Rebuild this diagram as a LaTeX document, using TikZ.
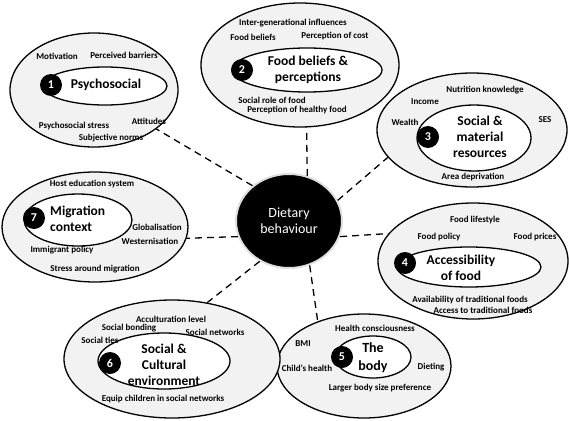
\documentclass[tikz,border=0pt]{standalone}
\usepackage{fontspec}
\setmainfont{Carlito}
\usetikzlibrary{shapes.geometric}
\definecolor{ringgrey}{HTML}{F2F2F2}

\begin{document}
\begin{tikzpicture}[x=1pt, y=-1pt,
  outer/.style={ellipse, draw=black, line width=1.3pt, fill=ringgrey, inner sep=0pt},
  inner/.style={ellipse, draw=black, line width=1.3pt, fill=white, inner sep=0pt},
  badge/.style={circle, fill=black, text=white, inner sep=0pt, minimum size=22pt,
    font=\bfseries\fontsize{12}{14}\selectfont},
  title/.style={align=center, inner sep=0pt, font=\bfseries\fontsize{13.5}{16}\selectfont},
  lbl/.style={inner sep=0pt, font=\bfseries\fontsize{9}{10}\selectfont},
  link/.style={line width=1.3pt, dash pattern=on 7pt off 5pt}]

\useasboundingbox (0,0) rectangle (569,420);

%% ------------------------------------------------------------------
%% centre: dietary behaviour
%% ------------------------------------------------------------------
\node[ellipse, fill=black, draw=gray!25, line width=2pt, minimum width=106pt,
  minimum height=94pt, text=white, align=center, inner sep=0pt,
  font=\fontsize{14}{16}\selectfont] (diet) at (289,221) {Dietary\\behaviour};

%% ------------------------------------------------------------------
%% (1) psychosocial
%% ------------------------------------------------------------------
\node[outer, minimum width=168pt, minimum height=114pt] (psy) at (94,90) {};
\node[inner, minimum width=124pt, minimum height=38pt] (psyin) at (105,86) {};
\node[badge] (b1) at (51,85) {1};
\node[title] (psyt) at (106,85) {Psychosocial};
\foreach \x/\y/\name/\txt in {57/56/motiv/Motivation, 124/55/barr/Perceived barriers,
    74/126/pstress/Psychosocial stress, 149/121/att/Attitudes,
    111/138/norms/Subjective norms}{
  \node[lbl] (\name) at (\x,\y) {\txt};
}

%% ------------------------------------------------------------------
%% (2) food beliefs & perceptions
%% ------------------------------------------------------------------
\node[outer, minimum width=198pt, minimum height=124pt] (food) at (300,65) {};
\node[inner, minimum width=150pt, minimum height=44pt] (foodin) at (307,70) {};
\node[badge] (b2) at (242,70) {2};
\node[title] (foodt) at (308,70) {Food beliefs \&\\perceptions};
\foreach \x/\y/\name/\txt in {293/23/intergen/Inter-generational influences,
    253/37/fbel/Food beliefs, 335/36/pcost/Perception of cost,
    272/100/srole/Social role of food, 297/110/phealthy/Perception of healthy food}{
  \node[lbl] (\name) at (\x,\y) {\txt};
}

%% ------------------------------------------------------------------
%% (3) social & material resources
%% ------------------------------------------------------------------
\node[outer, minimum width=190pt, minimum height=114pt] (soc) at (472,130) {};
\node[inner, minimum width=114pt, minimum height=66pt] (socin) at (474,138) {};
\node[badge] (b3) at (428,137) {3};
\node[title] (soct) at (480,137) {Social \&\\material\\resources};
\foreach \x/\y/\name/\txt in {485/90/nutr/Nutrition knowledge, 425/102/income/Income,
    405/122/wealth/Wealth, 545/120/ses/SES, 473/177/area/Area deprivation}{
  \node[lbl] (\name) at (\x,\y) {\txt};
}

%% ------------------------------------------------------------------
%% (4) accessibility of food
%% ------------------------------------------------------------------
\node[outer, minimum width=190pt, minimum height=116pt] (acc) at (473,261) {};
\node[inner, minimum width=144pt, minimum height=40pt] (accin) at (469,267) {};
\node[badge] (b4) at (405,263) {4};
\node[title] (acct) at (461,268) {Accessibility\\of food};
\foreach \x/\y/\name/\txt in {475/220/lifestyle/Food lifestyle, 439/237/policy/Food policy,
    535/237/prices/Food prices, 470/300/avail/Availability of traditional foods,
    483/310/access/Access to traditional foods}{
  \node[lbl] (\name) at (\x,\y) {\txt};
}

%% ------------------------------------------------------------------
%% (5) the body
%% ------------------------------------------------------------------
\node[outer, minimum width=174pt, minimum height=104pt] (body) at (364,366) {};
\node[inner, minimum width=76pt, minimum height=42pt] (bodyin) at (373,357) {};
\node[badge] (b5) at (342,357) {5};
\node[title, font=\bfseries\fontsize{14}{18}\selectfont] (bodyt) at (373,358) {The\\body};
\foreach \x/\y/\name/\txt in {375/328/hcons/Health consciousness, 303/344/bmi/BMI,
    307/368/child/Child’s health, 431/367/diet2/Dieting,
    380/388/larger/Larger body size preference}{
  \node[lbl] (\name) at (\x,\y) {\txt};
}

%% ------------------------------------------------------------------
%% (6) social & cultural environment
%% ------------------------------------------------------------------
\node[outer, minimum width=216pt, minimum height=118pt] (cult) at (172,359) {};
\node[inner, minimum width=132pt, minimum height=56pt] (cultin) at (164,361) {};
\node[badge] (b6) at (110,363) {6};
\node[title] (cultt) at (164,365) {Social \&\\Cultural\\environment};
\foreach \x/\y/\name/\txt in {171/319/accult/Acculturation level, 129/328/bond/Social bonding,
    215/332/snet/Social networks, 100/340/ties/Social ties,
    163/399/equip/Equip children in social networks}{
  \node[lbl] (\name) at (\x,\y) {\txt};
}

%% ------------------------------------------------------------------
%% (7) migration context
%% ------------------------------------------------------------------
\node[outer, minimum width=186pt, minimum height=110pt] (mig) at (95,227) {};
\node[inner, minimum width=108pt, minimum height=52pt] (migin) at (78,220) {};
\node[badge] (b7) at (34,218) {7};
\node[title, align=left, anchor=west] (migt) at (50,219) {Migration\\context};
\foreach \x/\y/\name/\txt in {92/184/host/Host education system, 157/227/glob/Globalisation,
    150/241/west/Westernisation, 62/250/immig/Immigrant policy,
    95/269/stress/Stress around migration}{
  \node[lbl] (\name) at (\x,\y) {\txt};
}

%% dashed spokes from the centre out to each domain
\draw[link] (diet.136) -- (psy.-32);
\draw[link] (diet.68) -- (food.-84);
\draw[link] (diet.23) -- (soc.198);
\draw[link] (diet.-17) -- (acc.162);
\draw[link] (diet.-65) -- (body.136);
\draw[link] (diet.234) -- (cult.58);
\draw[link] (diet.197) -- (mig.-7);

\end{tikzpicture}
\end{document}
